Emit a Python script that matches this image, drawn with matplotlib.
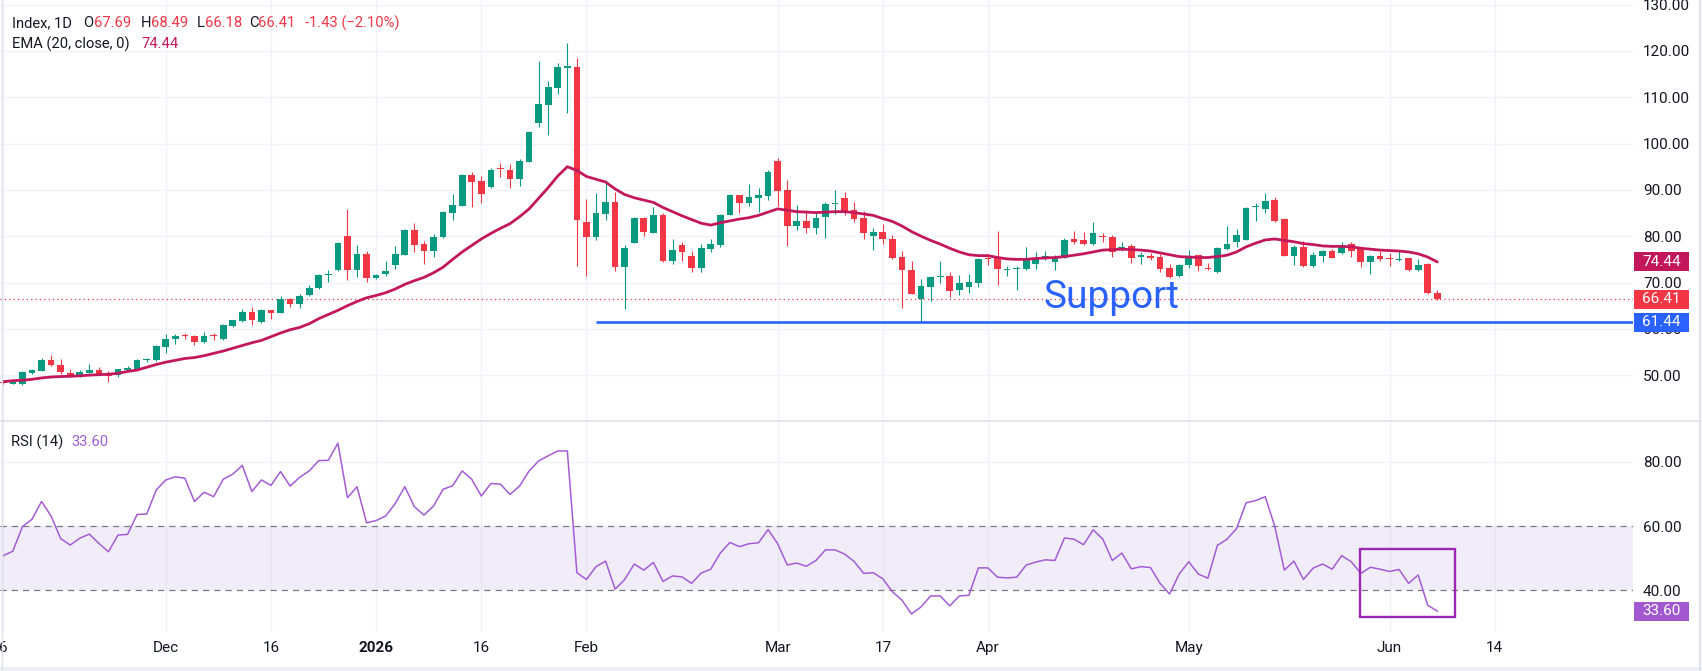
import matplotlib
matplotlib.use("Agg")
import matplotlib.pyplot as plt
import matplotlib.transforms as mtransforms
from matplotlib.patches import Rectangle
from matplotlib.lines import Line2D

plt.rcParams['font.family'] = ['Roboto', 'DejaVu Sans']

# daily candles, bar 0 = 6 Nov 2025 ... bar 150 = 8 Jun 2026
opens = [48.4, 48.1, 48.1, 50.4, 51.0, 53.3, 52.2, 50.4, 49.9, 50.5,
         51.1, 50.4, 50.0, 51.2, 51.2, 53.2, 53.2, 56.0, 57.7, 58.7,
         58.5, 57.1, 58.6, 57.8, 60.7, 61.6, 63.6, 61.4, 64.0, 63.5,
         66.5, 65.3, 67.2, 68.8, 71.6, 72.6, 80.0, 72.8, 76.2, 70.9,
         71.9, 73.7, 76.0, 81.4, 78.3, 76.9, 79.9, 85.1, 86.6, 93.2,
         91.9, 90.6, 94.6, 94.3, 92.4, 96.1, 104.5, 108.4, 112.1, 116.4,
         116.5, 83.1, 79.9, 84.9, 87.4, 73.4, 78.6, 84.0, 80.7, 84.6,
         74.7, 78.1, 75.8, 73.2, 77.3, 78.1, 84.6, 88.9, 87.2, 88.3,
         88.7, 96.3, 90.0, 82.2, 83.3, 81.8, 84.2, 87.0, 88.3, 85.7,
         84.0, 80.1, 80.9, 79.4, 75.5, 72.8, 66.5, 69.1, 71.1, 71.4,
         68.3, 69.1, 69.9, 75.3, 75.2, 72.6, 72.9, 73.0, 74.1, 75.0,
         74.5, 75.4, 79.4, 79.1, 78.4, 80.0, 79.9, 77.0, 77.8, 75.6,
         75.6, 75.5, 73.2, 71.3, 73.7, 75.9, 73.1, 72.2, 77.3, 78.8,
         79.2, 86.3, 85.9, 87.8, 83.7, 75.8, 77.7, 73.6, 75.8, 76.7,
         76.3, 78.3, 77.3, 74.5, 75.8, 75.2, 74.9, 75.3, 72.6, 74.0,
         67.69]
highs = [48.6, 48.6, 50.8, 51.3, 53.7, 54.4, 53.5, 51.4, 51.2, 52.5,
         51.7, 50.9, 51.4, 51.9, 53.4, 53.8, 56.6, 58.9, 58.9, 59.1,
         58.7, 59.4, 59.1, 61.0, 62.0, 64.3, 64.7, 64.2, 64.1, 67.0,
         66.7, 67.6, 69.4, 71.8, 72.7, 78.7, 85.9, 78.1, 76.7, 71.8,
         74.7, 77.9, 81.5, 82.9, 79.0, 80.5, 85.4, 89.2, 93.5, 93.9,
         92.9, 94.8, 95.8, 95.5, 96.7, 102.7, 117.8, 113.5, 117.4, 121.7,
         118.5, 88.1, 89.4, 92.2, 89.6, 78.1, 84.2, 84.1, 86.4, 85.0,
         79.4, 78.8, 76.8, 78.3, 79.4, 84.7, 89.2, 89.0, 91.3, 90.4,
         94.2, 96.8, 92.2, 86.8, 85.7, 85.0, 87.3, 90.0, 89.6, 87.4,
         85.4, 81.8, 82.7, 80.3, 76.7, 74.7, 70.8, 71.4, 74.7, 72.2,
         71.7, 71.9, 75.3, 76.2, 81.2, 73.6, 73.6, 77.7, 76.6, 76.9,
         75.9, 79.6, 81.2, 80.9, 83.1, 80.7, 80.3, 78.8, 78.3, 76.5,
         76.4, 76.2, 74.0, 74.0, 77.1, 76.0, 74.2, 77.7, 82.2, 81.5,
         86.3, 87.1, 89.4, 88.5, 83.9, 78.1, 78.9, 76.6, 77.1, 77.2,
         78.8, 78.7, 77.6, 75.9, 76.7, 76.3, 77.1, 75.4, 75.1, 74.2,
         68.49]
lows = [48.0, 48.0, 47.9, 50.3, 50.9, 52.0, 50.2, 49.8, 49.5, 50.4,
        50.1, 48.6, 49.7, 50.8, 51.1, 52.8, 53.1, 54.7, 56.8, 57.8,
        56.6, 57.0, 57.6, 57.6, 60.3, 61.5, 60.9, 61.3, 62.2, 63.4,
        64.8, 64.5, 67.1, 68.7, 70.2, 72.5, 70.6, 71.2, 70.2, 70.8,
        71.3, 73.0, 75.9, 76.5, 73.9, 75.6, 79.6, 83.6, 86.5, 86.4,
        87.1, 90.5, 92.7, 90.5, 90.9, 96.0, 103.5, 101.9, 110.6, 106.7,
        73.5, 71.5, 79.1, 83.4, 72.4, 64.2, 78.5, 80.1, 80.6, 74.5,
        74.0, 74.7, 72.2, 72.3, 76.5, 77.6, 84.5, 85.0, 86.6, 85.3,
        87.8, 86.6, 77.9, 81.4, 80.6, 80.4, 79.6, 84.8, 84.5, 83.1,
        79.4, 77.1, 78.4, 75.0, 64.5, 67.5, 61.4, 66.1, 70.0, 66.8,
        67.3, 67.8, 69.1, 73.8, 69.5, 71.3, 68.3, 72.7, 72.9, 74.9,
        72.8, 75.3, 78.4, 78.2, 78.1, 78.7, 75.6, 76.7, 74.2, 74.0,
        74.8, 72.2, 70.9, 71.2, 73.1, 72.4, 72.7, 72.1, 77.1, 77.6,
        79.1, 83.2, 85.1, 83.1, 75.7, 73.8, 73.3, 73.3, 74.5, 75.2,
        76.2, 75.5, 73.4, 71.9, 74.7, 73.5, 74.6, 72.5, 72.5, 67.5,
        66.18]
closes = [48.2, 48.6, 50.6, 51.2, 53.3, 52.1, 50.6, 49.9, 50.7, 51.2,
          50.2, 49.9, 51.3, 51.4, 53.3, 53.4, 56.3, 57.8, 58.5, 58.5,
          57.1, 58.5, 58.4, 60.9, 61.8, 63.6, 61.8, 64.1, 63.5, 66.5,
          65.3, 67.1, 68.8, 71.7, 71.8, 78.6, 72.8, 76.1, 70.9, 71.7,
          72.5, 76.2, 81.4, 78.2, 76.9, 79.9, 85.3, 86.8, 93.2, 91.8,
          89.1, 94.3, 94.5, 92.4, 96.3, 102.5, 108.6, 112.2, 116.5, 116.6,
          83.4, 79.9, 85.0, 87.4, 73.4, 77.4, 84.0, 81.0, 84.6, 74.7,
          77.0, 76.5, 73.2, 77.5, 78.3, 84.6, 88.9, 87.2, 88.5, 88.9,
          93.9, 89.8, 82.2, 83.3, 81.8, 84.0, 87.0, 87.2, 85.3, 83.8,
          80.6, 80.9, 79.3, 75.2, 72.8, 67.6, 69.3, 71.2, 71.3, 68.1,
          70.0, 70.1, 75.1, 75.1, 73.0, 72.8, 73.1, 75.0, 75.3, 75.7,
          75.5, 79.2, 78.8, 78.3, 80.7, 79.8, 76.5, 77.7, 75.4, 75.8,
          75.4, 73.0, 71.2, 73.8, 75.4, 73.5, 72.9, 77.5, 78.3, 80.2,
          86.1, 86.5, 87.6, 83.3, 75.8, 77.7, 73.6, 76.0, 76.7, 75.3,
          78.1, 76.9, 74.5, 75.7, 75.0, 75.0, 75.1, 72.6, 73.8, 67.84,
          66.41]
ema20 = [48.6, 48.8, 48.9, 49.1, 49.4, 49.6, 49.7, 49.75, 49.85, 50.0,
         50.1, 50.2, 50.4, 50.8, 51.1, 51.7, 52.3, 52.8, 53.2, 53.6,
         53.8, 54.2, 54.7, 55.2, 55.8, 56.4, 57.0, 57.5, 58.3, 59.1,
         59.8, 60.3, 61.1, 62.2, 63.1, 64.0, 65.0, 65.9, 66.7, 67.2,
         67.8, 68.6, 69.6, 70.4, 71.1, 72.1, 73.3, 75.0, 76.6, 78.0,
         79.4, 80.6, 81.7, 82.7, 84.2, 85.9, 88.2, 90.5, 93.0, 95.0,
         94.2, 92.9, 92.3, 91.7, 90.2, 89.0, 88.3, 87.8, 87.3, 86.2,
         85.3, 84.4, 83.6, 82.8, 82.4, 82.9, 83.3, 83.7, 84.0, 84.5,
         85.2, 85.9, 85.6, 85.3, 85.2, 85.1, 85.2, 85.3, 85.3, 85.1,
         84.8, 84.5, 83.8, 83.2, 82.2, 81.0, 80.0, 79.1, 78.3, 77.4,
         76.6, 76.0, 75.8, 75.8, 75.4, 75.1, 75.0, 75.0, 75.2, 75.3,
         75.4, 75.6, 75.9, 76.2, 76.6, 77.0, 77.1, 77.2, 77.1, 77.0,
         76.8, 76.4, 76.0, 75.6, 75.5, 75.4, 75.4, 75.6, 75.9, 76.6,
         77.7, 78.5, 79.2, 79.4, 79.1, 78.8, 78.4, 78.2, 77.9, 77.8,
         77.8, 77.7, 77.4, 77.2, 77.0, 76.9, 76.8, 76.6, 76.2, 75.5,
         74.44]
rsi14 = [50.8, 52.2, 59.8, 62.1, 67.6, 63.1, 56.1, 54.1, 56.2, 57.5,
         54.6, 52.0, 57.2, 57.4, 63.6, 63.7, 71.2, 74.3, 75.3, 74.8,
         67.6, 70.5, 69.1, 74.5, 76.1, 78.8, 70.7, 74.3, 72.6, 76.9,
         72.4, 75.1, 77.1, 80.3, 80.4, 85.7, 68.8, 72.2, 61.0, 61.7,
         63.1, 67.0, 72.2, 66.0, 63.4, 66.2, 71.4, 72.5, 77.1, 74.5,
         69.3, 73.2, 73.0, 69.8, 72.4, 77.1, 80.2, 81.8, 83.3, 83.3,
         45.5, 43.4, 47.4, 49.1, 40.4, 43.4, 48.2, 46.3, 48.7, 42.8,
         44.5, 44.2, 42.2, 45.4, 46.6, 51.6, 54.9, 53.6, 54.5, 54.8,
         58.9, 54.5, 47.9, 48.5, 47.5, 49.3, 52.6, 52.6, 51.3, 49.0,
         45.3, 45.5, 43.6, 39.6, 37.0, 32.7, 34.9, 38.3, 38.3, 35.2,
         38.3, 38.5, 47.0, 47.0, 44.1, 43.9, 44.1, 47.9, 48.8, 49.5,
         49.3, 56.3, 55.9, 54.2, 58.8, 56.0, 49.3, 51.6, 46.7, 47.4,
         47.1, 42.2, 38.9, 45.1, 48.9, 45.1, 43.8, 54.0, 55.9, 59.2,
         67.2, 67.9, 69.1, 59.9, 46.3, 49.1, 43.4, 46.9, 48.2, 46.6,
         50.8, 48.9, 45.3, 47.2, 46.6, 45.9, 46.5, 42.2, 44.8, 35.4,
         33.6]

tick_pos = [0, 17, 28, 39, 50, 61, 81, 92, 103, 124, 145, 156]
tick_labels = ["6", "Dec", "16", "2026", "16", "Feb", "Mar", "17", "Apr", "May", "Jun", "14"]
price_ticks = [50, 60, 70, 80, 90, 100, 110, 120, 130]
rsi_ticks = [40, 60, 80]

support = 61.44
support_from = 62
ema_last = 74.44
rsi_last = 33.60
last_close = closes[-1]
box_x = (141.9, 151.9)
box_y = (31.8, 52.9)

UP, DN = '#089981', '#f23645'
EMA_C, RSI_C, BOX_C, BLUE = '#c2185b', '#a45bd6', '#9c27b0', '#2962ff'
TXT, GRID = '#131722', '#f0f3fa'

W, H = 1702, 671
fig = plt.figure(figsize=(W / 100, H / 100), dpi=100)


def fx(px):
    return px / W


def fy(px):
    return 1 - px / H


ax = fig.add_axes([0, fy(421), fx(1633), 421 / H])
axr = fig.add_axes([0, fy(632), fx(1633), (632 - 421) / H], sharex=ax)
ax.set_xlim(-0.345, 170.47)
ax.set_ylim(40.1, 131.0)
axr.set_ylim(27.1, 92.6)

for a in (ax, axr):
    for s in a.spines.values():
        s.set_visible(False)
    a.yaxis.tick_right()
    a.tick_params(axis='y', length=0, pad=7.2, labelsize=11, labelcolor=TXT)
    a.tick_params(axis='x', length=0)
    for t in tick_pos:
        a.axvline(t, color=GRID, lw=1, zorder=0)

# grid + price axis
for v in price_ticks:
    ax.axhline(v, color=GRID, lw=1, zorder=0)
ax.set_yticks(price_ticks)
ax.set_yticklabels([f"{v:.2f}" for v in price_ticks])
ax.tick_params(axis='x', labelbottom=False)

# candles
n = len(closes)
xs = list(range(n))
cols = [UP if closes[i] >= opens[i] else DN for i in xs]
ax.vlines(xs, lows, highs, colors=cols, lw=0.8, zorder=3)
bottoms = [min(opens[i], closes[i]) for i in xs]
heights = [max(abs(closes[i] - opens[i]), 0.25) for i in xs]
ax.bar(xs, heights, bottom=bottoms, width=0.7, color=cols, lw=0, zorder=4)

ax.plot(xs, ema20, color=EMA_C, lw=2.0, zorder=5, solid_capstyle='round')
ax.axhline(last_close, color=DN, lw=0.9, ls=(0, (1, 2.5)), zorder=2)
ax.hlines(support, support_from, 180, color=BLUE, lw=1.9, zorder=6)
ax.text(108.8, 64.5, "Support", fontsize=28, color=BLUE, va='baseline', ha='left', zorder=7)

# RSI pane
axr.axhline(80, color=GRID, lw=1, zorder=0)
axr.axhspan(40, 60, color='#7e57c2', alpha=0.1, lw=0, zorder=1)
for v in (40, 60):
    axr.axhline(v, color='#787b86', lw=0.9, ls=(0, (5, 4)), zorder=2)
axr.plot(xs, rsi14, color=RSI_C, lw=1.1, zorder=4)
axr.add_patch(Rectangle((box_x[0], box_y[0]), box_x[1] - box_x[0], box_y[1] - box_y[0],
                        fill=False, ec=BOX_C, lw=1.7, zorder=5))
axr.set_yticks(rsi_ticks)
axr.set_yticklabels([f"{v:.2f}" for v in rsi_ticks])
axr.set_xticks(tick_pos)
axr.set_xticklabels(tick_labels)
axr.tick_params(axis='x', pad=6.5, labelsize=11, labelcolor=TXT)
for lab in axr.get_xticklabels():
    if lab.get_text() == "2026":
        lab.set_fontweight('bold')


def badge(a, val, txt, col):
    tr = mtransforms.blended_transform_factory(fig.transFigure, a.transData)
    y0, y1 = a.get_ylim()
    upp = (y1 - y0) / (a.get_position().height * H)
    hh = 19 * upp
    fig.add_artist(Rectangle((fx(1634), val - hh / 2), fx(1689) - fx(1634), hh,
                             transform=tr, fc=col, ec='none', zorder=5))
    fig.text(fx(1661.5), val, txt, transform=tr, color='white', fontsize=11,
             ha='center', va='center', zorder=6)


badge(ax, ema_last, f"{ema_last:.2f}", EMA_C)
badge(ax, last_close, f"{last_close:.2f}", DN)
badge(ax, support, f"{support:.2f}", BLUE)
badge(axr, rsi_last, f"{rsi_last:.2f}", '#a259cf')

# legend / header texts
hs = 10.6
header = [(11.7, "Index, 1D", TXT), (83.3, "O", TXT), (94.3, f"{opens[-1]:.2f}", DN),
          (140.7, "H", TXT), (150.7, f"{highs[-1]:.2f}", DN), (196.7, "L", TXT),
          (205.0, f"{lows[-1]:.2f}", DN), (249.3, "C", TXT), (258.0, f"{closes[-1]:.2f}", DN),
          (305.0, "-1.43 (\u22122.10%)", DN)]
for x, s, c in header:
    fig.text(fx(x), fy(27.3), s, color=c, fontsize=hs, va='baseline')
fig.text(fx(11.7), fy(48.3), "EMA (20, close, 0)", color=TXT, fontsize=hs, va='baseline')
fig.text(fx(141.7), fy(48.3), f"{ema_last:.2f}", color=EMA_C, fontsize=hs, va='baseline')
fig.text(fx(11.0), fy(446.5), "RSI (14)", color=TXT, fontsize=hs, va='baseline')
fig.text(fx(71.0), fy(446.5), f"{rsi_last:.2f}", color=RSI_C, fontsize=hs, va='baseline')

# pane separator and frame
fig.add_artist(Line2D([0, 1], [fy(421), fy(421)], transform=fig.transFigure, color='#e0e3eb', lw=1.2))
fig.add_artist(Line2D([fx(1.5), fx(1.5)], [0, 1], transform=fig.transFigure, color='#e0e3eb', lw=1))
fig.add_artist(Line2D([fx(1700), fx(1700)], [0, 1], transform=fig.transFigure, color='#e0e3eb', lw=1.5))
fig.add_artist(Rectangle((0, 0), 1, 4 / H, transform=fig.transFigure, fc='#eceef3', ec='none'))

fig.savefig("out.png", dpi=100)
